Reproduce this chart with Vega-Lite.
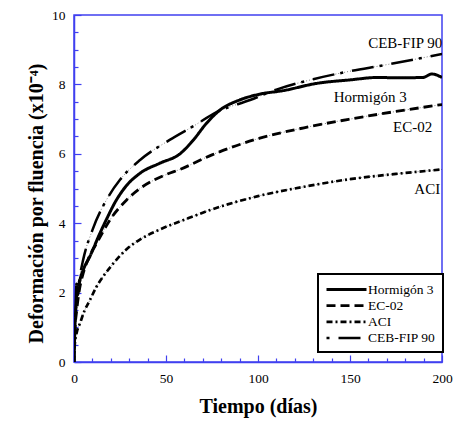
{
  "$schema": "https://vega.github.io/schema/vega-lite/v6.json",
  "width": 368,
  "height": 347,
  "autosize": "none",
  "padding": {"left": 74, "top": 15, "right": 16, "bottom": 62},
  "background": "white",
  "config": {
    "view": {"stroke": "#4040f0", "strokeWidth": 1.5},
    "font": "Liberation Serif",
    "axis": {
      "domainColor": "#4040f0",
      "domainWidth": 1.5,
      "tickColor": "#4040f0",
      "tickWidth": 1.2,
      "grid": false,
      "labelFont": "Liberation Serif",
      "labelFontSize": 13.5,
      "labelColor": "black",
      "titleFont": "Liberation Serif",
      "titleFontSize": 20,
      "titleFontWeight": "bold",
      "titleColor": "black",
      "labelOverlap": false,
      "labelFlush": false
    },
    "legend": {
      "strokeColor": "black",
      "strokeWidth": 2,
      "labelFont": "Liberation Serif",
      "labelFontSize": 13.5,
      "labelColor": "black"
    }
  },
  "datasets": {
    "curves": [
      {"s": "Hormigón 3", "t": 0, "y": 0},
      {"s": "Hormigón 3", "t": 0.5, "y": 1.0},
      {"s": "Hormigón 3", "t": 1, "y": 1.6},
      {"s": "Hormigón 3", "t": 1.5, "y": 2.25},
      {"s": "Hormigón 3", "t": 2, "y": 1.95},
      {"s": "Hormigón 3", "t": 3, "y": 2.3},
      {"s": "Hormigón 3", "t": 5, "y": 2.65},
      {"s": "Hormigón 3", "t": 8.7, "y": 3.05},
      {"s": "Hormigón 3", "t": 14, "y": 3.7},
      {"s": "Hormigón 3", "t": 18, "y": 4.15},
      {"s": "Hormigón 3", "t": 22.3, "y": 4.6},
      {"s": "Hormigón 3", "t": 28, "y": 5.05},
      {"s": "Hormigón 3", "t": 35.9, "y": 5.44},
      {"s": "Hormigón 3", "t": 46.7, "y": 5.73},
      {"s": "Hormigón 3", "t": 57.6, "y": 6.0},
      {"s": "Hormigón 3", "t": 64.9, "y": 6.4},
      {"s": "Hormigón 3", "t": 72, "y": 6.88},
      {"s": "Hormigón 3", "t": 79.3, "y": 7.26},
      {"s": "Hormigón 3", "t": 90, "y": 7.55},
      {"s": "Hormigón 3", "t": 101, "y": 7.72},
      {"s": "Hormigón 3", "t": 113.6, "y": 7.82},
      {"s": "Hormigón 3", "t": 132, "y": 8.03},
      {"s": "Hormigón 3", "t": 150, "y": 8.13},
      {"s": "Hormigón 3", "t": 165, "y": 8.2},
      {"s": "Hormigón 3", "t": 175.4, "y": 8.19},
      {"s": "Hormigón 3", "t": 189.7, "y": 8.2},
      {"s": "Hormigón 3", "t": 194.4, "y": 8.3},
      {"s": "Hormigón 3", "t": 200, "y": 8.2},
      {"s": "EC-02", "t": 0, "y": 0},
      {"s": "EC-02", "t": 0.5, "y": 0.9},
      {"s": "EC-02", "t": 1.5, "y": 1.5},
      {"s": "EC-02", "t": 3, "y": 2.1},
      {"s": "EC-02", "t": 5, "y": 2.56},
      {"s": "EC-02", "t": 8, "y": 3.0},
      {"s": "EC-02", "t": 12.3, "y": 3.42},
      {"s": "EC-02", "t": 19.6, "y": 4.1},
      {"s": "EC-02", "t": 28.6, "y": 4.67},
      {"s": "EC-02", "t": 35.9, "y": 5.0},
      {"s": "EC-02", "t": 50, "y": 5.4},
      {"s": "EC-02", "t": 57.6, "y": 5.55},
      {"s": "EC-02", "t": 75, "y": 5.97},
      {"s": "EC-02", "t": 101, "y": 6.45},
      {"s": "EC-02", "t": 125, "y": 6.75},
      {"s": "EC-02", "t": 150, "y": 7.0},
      {"s": "EC-02", "t": 175, "y": 7.22},
      {"s": "EC-02", "t": 200, "y": 7.42},
      {"s": "ACI", "t": 0, "y": 0},
      {"s": "ACI", "t": 0.5, "y": 0.55},
      {"s": "ACI", "t": 1.5, "y": 0.85},
      {"s": "ACI", "t": 3.3, "y": 1.12},
      {"s": "ACI", "t": 5.5, "y": 1.45},
      {"s": "ACI", "t": 8.7, "y": 1.79},
      {"s": "ACI", "t": 12, "y": 2.15},
      {"s": "ACI", "t": 15.8, "y": 2.46},
      {"s": "ACI", "t": 20, "y": 2.75},
      {"s": "ACI", "t": 28.6, "y": 3.25},
      {"s": "ACI", "t": 35, "y": 3.5},
      {"s": "ACI", "t": 46.7, "y": 3.82},
      {"s": "ACI", "t": 60, "y": 4.1},
      {"s": "ACI", "t": 74, "y": 4.38},
      {"s": "ACI", "t": 100, "y": 4.78},
      {"s": "ACI", "t": 125, "y": 5.05},
      {"s": "ACI", "t": 150, "y": 5.27},
      {"s": "ACI", "t": 175, "y": 5.42},
      {"s": "ACI", "t": 200, "y": 5.55},
      {"s": "CEB-FIP 90", "t": 0, "y": 0},
      {"s": "CEB-FIP 90", "t": 0.5, "y": 1.0},
      {"s": "CEB-FIP 90", "t": 1, "y": 1.5},
      {"s": "CEB-FIP 90", "t": 3, "y": 2.4},
      {"s": "CEB-FIP 90", "t": 5, "y": 2.95},
      {"s": "CEB-FIP 90", "t": 10, "y": 3.8},
      {"s": "CEB-FIP 90", "t": 18.5, "y": 4.75},
      {"s": "CEB-FIP 90", "t": 25, "y": 5.25},
      {"s": "CEB-FIP 90", "t": 35.9, "y": 5.82},
      {"s": "CEB-FIP 90", "t": 52, "y": 6.4},
      {"s": "CEB-FIP 90", "t": 65, "y": 6.8},
      {"s": "CEB-FIP 90", "t": 77.5, "y": 7.2},
      {"s": "CEB-FIP 90", "t": 95.7, "y": 7.55},
      {"s": "CEB-FIP 90", "t": 110, "y": 7.85},
      {"s": "CEB-FIP 90", "t": 130, "y": 8.15},
      {"s": "CEB-FIP 90", "t": 150, "y": 8.38},
      {"s": "CEB-FIP 90", "t": 168, "y": 8.55},
      {"s": "CEB-FIP 90", "t": 185, "y": 8.72},
      {"s": "CEB-FIP 90", "t": 200, "y": 8.88}
    ],
    "labels": [
      {"t": 180, "y": 9.2, "label": "CEB-FIP 90"},
      {"t": 161, "y": 7.65, "label": "Hormigón 3"},
      {"t": 184, "y": 6.78, "label": "EC-02"},
      {"t": 192, "y": 5.0, "label": "ACI"}
    ]
  },
  "resolve": {"axis": {"x": "independent", "y": "independent"}},
  "layer": [
    {
      "data": {"name": "curves"},
      "transform": [{"filter": "datum.s !== 'Hormigón 3'"}],
      "mark": {"type": "line", "interpolate": "monotone", "color": "black", "strokeWidth": 0.7, "strokeDash": [1, 2], "opacity": 0.7, "clip": true},
      "encoding": {
        "x": {"field": "t", "type": "quantitative", "axis": null},
        "y": {"field": "y", "type": "quantitative", "axis": null},
        "detail": {"field": "s"}
      }
    },
    {
      "data": {"name": "curves"},
      "mark": {"type": "line", "interpolate": "monotone", "color": "black", "clip": true},
      "encoding": {
        "x": {
          "field": "t",
          "type": "quantitative",
          "scale": {"domain": [0, 200], "nice": false},
          "axis": {
            "orient": "bottom",
            "title": "Tiempo (días)",
            "values": [0, 50, 100, 150, 200],
            "tickSize": -7,
            "labelPadding": 16,
            "titlePadding": 12
          }
        },
        "y": {
          "field": "y",
          "type": "quantitative",
          "scale": {"domain": [0, 10], "nice": false},
          "axis": {
            "orient": "left",
            "title": "Deformación por fluencia (x10⁻⁴)",
            "values": [0, 2, 4, 6, 8, 10],
            "tickSize": -7,
            "labelPadding": 16,
            "titlePadding": 5,
            "titleY": 188,
            "titleAlign": "center"
          }
        },
        "strokeDash": {
          "field": "s",
          "type": "nominal",
          "scale": {
            "domain": ["Hormigón 3", "EC-02", "ACI", "CEB-FIP 90"],
            "range": [[1, 0], [9, 5], [6, 3, 2, 3], [3, 9, 22, 6]]
          },
          "legend": {
            "title": null,
            "orient": "none",
            "legendX": 244,
            "legendY": 259,
            "symbolType": "M-2.857,0H2.857",
            "symbolSize": 196,
            "symbolOffset": 13,
            "labelOffset": 13,
            "symbolStrokeColor": "black",
            "symbolStrokeWidth": 2.5,
            "padding": 7,
            "rowPadding": 1.2,
            "strokeColor": "black",
            "fillColor": "white"
          }
        },
        "strokeWidth": {
          "field": "s",
          "type": "nominal",
          "scale": {
            "domain": ["Hormigón 3", "EC-02", "ACI", "CEB-FIP 90"],
            "range": [3, 2.5, 2.2, 2.2]
          },
          "legend": null
        }
      }
    },
    {
      "data": {"name": "labels"},
      "mark": {"type": "text", "font": "Liberation Serif", "fontSize": 15, "color": "black", "align": "center", "baseline": "middle"},
      "encoding": {
        "x": {
          "field": "t",
          "type": "quantitative",
          "axis": {
            "orient": "bottom",
            "title": null,
            "labels": false,
            "domain": false,
            "values": [10, 20, 30, 40, 60, 70, 80, 90, 110, 120, 130, 140, 160, 170, 180, 190],
            "tickSize": -4
          }
        },
        "y": {
          "field": "y",
          "type": "quantitative",
          "axis": {
            "orient": "left",
            "title": null,
            "labels": false,
            "domain": false,
            "values": [0.5, 1, 1.5, 2.5, 3, 3.5, 4.5, 5, 5.5, 6.5, 7, 7.5, 8.5, 9, 9.5],
            "tickSize": -4
          }
        },
        "text": {"field": "label"}
      }
    }
  ]
}
